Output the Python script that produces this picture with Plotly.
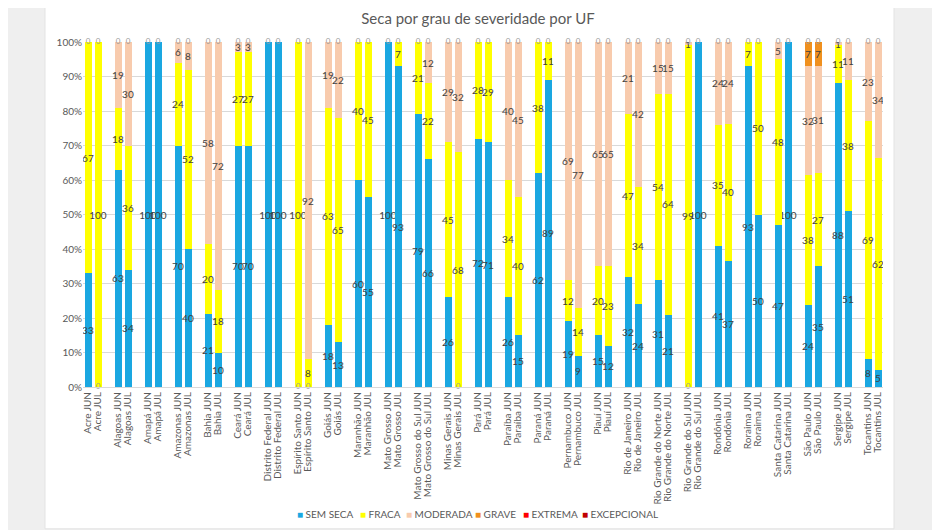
import plotly.graph_objects as go

states = ["Acre", "Alagoas", "Amapá", "Amazonas", "Bahia", "Ceará", "Distrito Federal",
          "Espírito Santo", "Goiás", "Maranhão", "Mato Grosso", "Mato Grosso do Sul",
          "Minas Gerais", "Pará", "Paraíba", "Paraná", "Pernambuco", "Piauí",
          "Rio de Janeiro", "Rio Grande do Norte", "Rio Grande do Sul", "Rondônia",
          "Roraima", "Santa Catarina", "São Paulo", "Sergipe", "Tocantins"]
months = ["JUN", "JUL"]

# values per state: [JUN, JUL]
sem_seca = [[33, 0], [63, 34], [100, 100], [70, 40], [21, 10], [70, 70], [100, 100],
            [0, 0], [18, 13], [60, 55], [100, 93], [79, 66], [26, 0], [72, 71],
            [26, 15], [62, 89], [19, 9], [15, 12], [32, 24], [31, 21], [0, 100],
            [41, 37], [93, 50], [47, 100], [24, 35], [88, 51], [8, 5]]
fraca = [[67, 100], [18, 36], [0, 0], [24, 52], [20, 18], [27, 27], [0, 0],
         [100, 8], [63, 65], [40, 45], [0, 7], [21, 22], [45, 68], [28, 29],
         [34, 40], [38, 11], [12, 14], [20, 23], [47, 34], [54, 64], [99, 0],
         [35, 40], [7, 50], [48, 0], [38, 27], [11, 38], [69, 62]]
moderada = [[0, 0], [19, 30], [0, 0], [6, 8], [58, 72], [3, 3], [0, 0],
            [0, 92], [19, 22], [0, 0], [0, 0], [0, 12], [29, 32], [0, 0],
            [40, 45], [0, 0], [69, 77], [65, 65], [21, 42], [15, 15], [1, 0],
            [24, 24], [0, 0], [5, 0], [32, 31], [1, 11], [23, 34]]
grave = [[0, 0]] * 24 + [[7, 7]] + [[0, 0]] * 2
extrema = [[0, 0]] * 27
excepcional = [[0, 0]] * 27

series_names = ["SEM SECA", "FRACA", "MODERADA", "GRAVE", "EXTREMA", "EXCEPCIONAL"]
series_vals = [sem_seca, fraca, moderada, grave, extrema, excepcional]
colors = ["#1AA7E1", "#FFFF00", "#F8CBAD", "#F0901E", "#FF0000", "#C00000"]

# category axis with blank spacer slots between states
cats = []
idx = []  # (state index, month index) or None for spacer
for i, s in enumerate(states):
    if i > 0:
        cats.append("\u00a0" * i)
        idx.append(None)
    for m in range(2):
        cats.append(f"{s} {months[m]}")
        idx.append((i, m))


def col(vals):
    return [None if t is None else vals[t[0]][t[1]] for t in idx]


FONT = "Lato"
fig = go.Figure()
for name, vals, c in zip(series_names, series_vals, colors):
    y = col(vals)
    txt = ["" if (v is None or v == 0) else str(v) for v in y]
    fig.add_trace(go.Bar(
        x=cats, y=y, name=name, marker=dict(color=c, line=dict(width=0)),
        text=txt, texttemplate="%{text}", textposition="inside",
        insidetextanchor="middle", textangle=0, constraintext="none",
        textfont=dict(size=10, color="#404040", family=FONT),
        showlegend=False, hoverinfo="skip"))

# labels of zero-valued segments at their stacked position (one per position)
zx, zy = [], []
for k, t in enumerate(idx):
    if t is None:
        continue
    vals = [sv[t[0]][t[1]] for sv in series_vals]
    total = sum(vals)
    cum = 0
    seen = set()
    for v in vals:
        pos = cum / total * 100
        if v == 0 and pos not in seen:
            seen.add(pos)
            zx.append(cats[k])
            zy.append(pos)
        cum += v
fig.add_trace(go.Scatter(x=zx, y=zy, mode="text", text=["0"] * len(zx),
                         textfont=dict(size=8, color="#9a9a9a", family=FONT),
                         showlegend=False, hoverinfo="skip", cliponaxis=False))

# legend entries: one small legend per series, coloured square drawn in the entry text
legend_x = [0.2175, 0.29625, 0.35375, 0.44, 0.5, 0.57375]
layout_legends = {}
for j, (name, c) in enumerate(zip(series_names, colors)):
    key = "legend" if j == 0 else f"legend{j + 1}"
    label = f"<span style='color:{c}'>■</span> {name}"
    fig.add_trace(go.Scatter(x=[None], y=[None], mode="markers", name=label,
                             marker=dict(symbol="square", size=7, color="rgba(0,0,0,0)"),
                             legend=key, showlegend=True, hoverinfo="skip"))
    layout_legends[key] = dict(x=legend_x[j], xanchor="left", y=-0.367, yanchor="middle",
                               orientation="h", itemwidth=30, bgcolor="rgba(0,0,0,0)",
                               font=dict(size=10, color="#595959", family=FONT))

fig.update_layout(
    width=940, height=530,
    barmode="stack", barnorm="percent", bargap=0.3,
    paper_bgcolor="#EFEFEF", plot_bgcolor="white",
    margin=dict(l=75, r=65, t=34, b=151, autoexpand=False),
    font=dict(family=FONT, size=10, color="#595959"),
    title=dict(text="Seca por grau de severidade por UF", x=0.5, xanchor="center",
               y=0.979, yanchor="middle", font=dict(size=15, color="#595959")),
    shapes=[dict(type="rect", xref="paper", yref="paper", x0=-0.0475, x1=1.01375,
                 y0=-0.411, y1=1.116, fillcolor="white",
                 line=dict(color="#E3E3E3", width=1), layer="below")],
    **layout_legends,
)
fig.update_xaxes(type="category", categoryorder="array", categoryarray=cats,
                 range=[-0.5, len(cats) - 0.5], tickmode="array", tickvals=cats,
                 ticktext=cats, tickangle=-90, automargin=False,
                 tickfont=dict(size=10, color="#595959", family=FONT),
                 showgrid=False, showline=True, linecolor="#D9D9D9", ticks="")
fig.update_yaxes(range=[0, 100], dtick=10, ticksuffix="%", gridcolor="#D9D9D9",
                 automargin=False, tickfont=dict(size=10, color="#595959", family=FONT),
                 zeroline=False, ticks="")

fig.write_html("out.html")
